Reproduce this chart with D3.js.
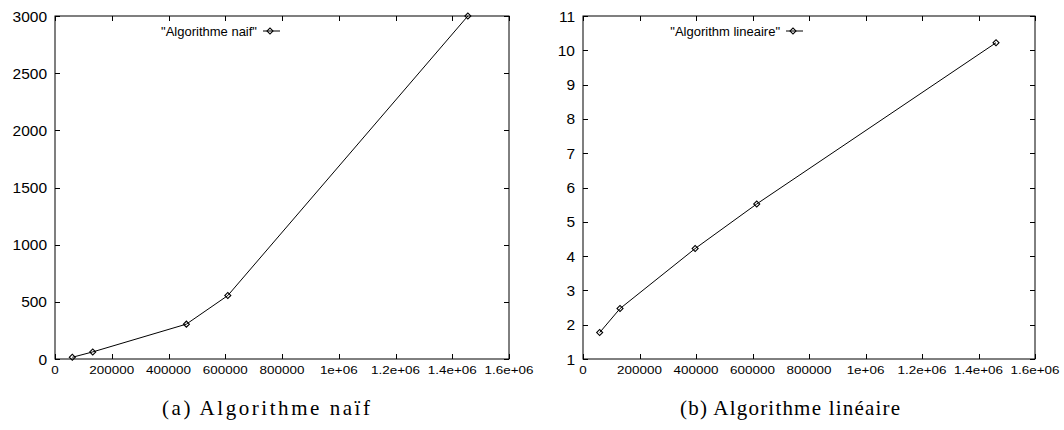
<!DOCTYPE html>
<html>
<head>
<meta charset="utf-8">
<script src="https://cdn.jsdelivr.net/npm/d3@7"></script>
<style>
  body { margin: 0; background: #fff; }
  .tick-y { font-family: "Liberation Sans", Arial, sans-serif; font-size: 15.5px; }
  .tick-x { font-family: "Liberation Sans", Arial, sans-serif; font-size: 11.5px; }
  .legend { font-family: "Liberation Sans", Arial, sans-serif; font-size: 13px; }
  .caption { font-family: "Liberation Serif", "DejaVu Serif", serif; font-size: 21px; }
</style>
</head>
<body>
<div class="canva"></div>
<script>
// data
const xTicks = [0, 200000, 400000, 600000, 800000, 1000000, 1200000, 1400000, 1600000];
const xTickLabels = ["0", "200000", "400000", "600000", "800000", "1e+06", "1.2e+06", "1.4e+06", "1.6e+06"];

const naifSize = [61000, 133000, 463000, 609000, 1455000];
const naifTime = [15, 62, 305, 555, 3000];
const naifTicks = [0, 500, 1000, 1500, 2000, 2500, 3000];

const lineSize = [59000, 131000, 397000, 615000, 1462000];
const lineTime = [1.77, 2.47, 4.22, 5.52, 10.22];
const lineTicks = [1, 2, 3, 4, 5, 6, 7, 8, 9, 10, 11];

const svg = d3.select(".canva").append("svg")
    .attr("width", 1064)
    .attr("height", 430);

function drawPanel(p) {
    const x = d3.scaleLinear().domain([0, 1600000]).range([p.left, p.right]);
    const y = d3.scaleLinear().domain(p.yDomain).range([p.bottom, p.top]);
    const g = svg.append("g");
    const tl = 5; // tick length, inward on all sides

    // frame
    g.append("rect")
        .attr("x", p.left).attr("y", p.top)
        .attr("width", p.right - p.left).attr("height", p.bottom - p.top)
        .attr("fill", "none").attr("stroke", "#000").attr("stroke-width", 1);

    // y ticks + labels
    p.yTicks.forEach(v => {
        const yy = Math.round(y(v)) + 0.5;
        g.append("line").attr("x1", p.left).attr("x2", p.left + tl)
            .attr("y1", yy).attr("y2", yy).attr("stroke", "#000");
        g.append("line").attr("x1", p.right).attr("x2", p.right - tl)
            .attr("y1", yy).attr("y2", yy).attr("stroke", "#000");
        g.append("text").attr("class", "tick-y")
            .attr("x", p.left - 8).attr("y", y(v)).attr("dy", "0.36em")
            .attr("text-anchor", "end")
            .text(v);
    });

    // x ticks + labels
    xTicks.forEach((v, i) => {
        const xx = Math.round(x(v)) + 0.5;
        g.append("line").attr("x1", xx).attr("x2", xx)
            .attr("y1", p.bottom).attr("y2", p.bottom - tl).attr("stroke", "#000");
        g.append("line").attr("x1", xx).attr("x2", xx)
            .attr("y1", p.top).attr("y2", p.top + tl).attr("stroke", "#000");
        g.append("text").attr("class", "tick-x")
            .attr("transform", `translate(${x(v)},${p.bottom + 14.5}) scale(1.17,1)`)
            .attr("text-anchor", "middle")
            .text(xTickLabels[i]);
    });

    const pts = p.xs.map((d, i) => [d, p.ys[i]]);
    const line = d3.line().x(d => x(d[0])).y(d => y(d[1]));

    g.append("path").datum(pts)
        .attr("d", line)
        .attr("fill", "none").attr("stroke", "#000").attr("stroke-width", 1);

    const marker = d3.symbol().type(d3.symbolSquare).size(18);
    g.selectAll(".pt").data(pts).enter().append("path")
        .attr("class", "pt")
        .attr("d", marker)
        .attr("transform", d => `translate(${x(d[0])},${y(d[1])}) rotate(45)`)
        .attr("fill", "none").attr("stroke", "#000").attr("stroke-width", 1.1);

    // key
    g.append("text").attr("class", "legend")
        .attr("x", p.keyX).attr("y", p.keyY).attr("dy", "0.35em")
        .attr("text-anchor", "end")
        .text(p.key);
    g.append("line")
        .attr("x1", p.keyX + 6).attr("x2", p.keyX + 23)
        .attr("y1", p.keyY).attr("y2", p.keyY)
        .attr("stroke", "#000");
    g.append("path").attr("d", marker)
        .attr("transform", `translate(${p.keyX + 13},${p.keyY}) rotate(45)`)
        .attr("fill", "none").attr("stroke", "#000").attr("stroke-width", 1.1);

    // caption
    g.append("text").attr("class", "caption")
        .attr("x", p.capX).attr("y", 415)
        .attr("text-anchor", "middle")
        .attr("textLength", p.capW).attr("lengthAdjust", "spacing")
        .text(p.caption);
}

drawPanel({
    left: 55, right: 509, top: 16, bottom: 359,
    yDomain: [0, 3000], yTicks: naifTicks,
    xs: naifSize, ys: naifTime,
    key: "\"Algorithme naif\"", keyX: 257, keyY: 31,
    caption: "(a) Algorithme naïf", capX: 266, capW: 208
});

drawPanel({
    left: 583, right: 1035, top: 16, bottom: 359,
    yDomain: [1, 11], yTicks: lineTicks,
    xs: lineSize, ys: lineTime,
    key: "\"Algorithm lineaire\"", keyX: 780, keyY: 31,
    caption: "(b) Algorithme linéaire", capX: 790, capW: 220
});
</script>
</body>
</html>
